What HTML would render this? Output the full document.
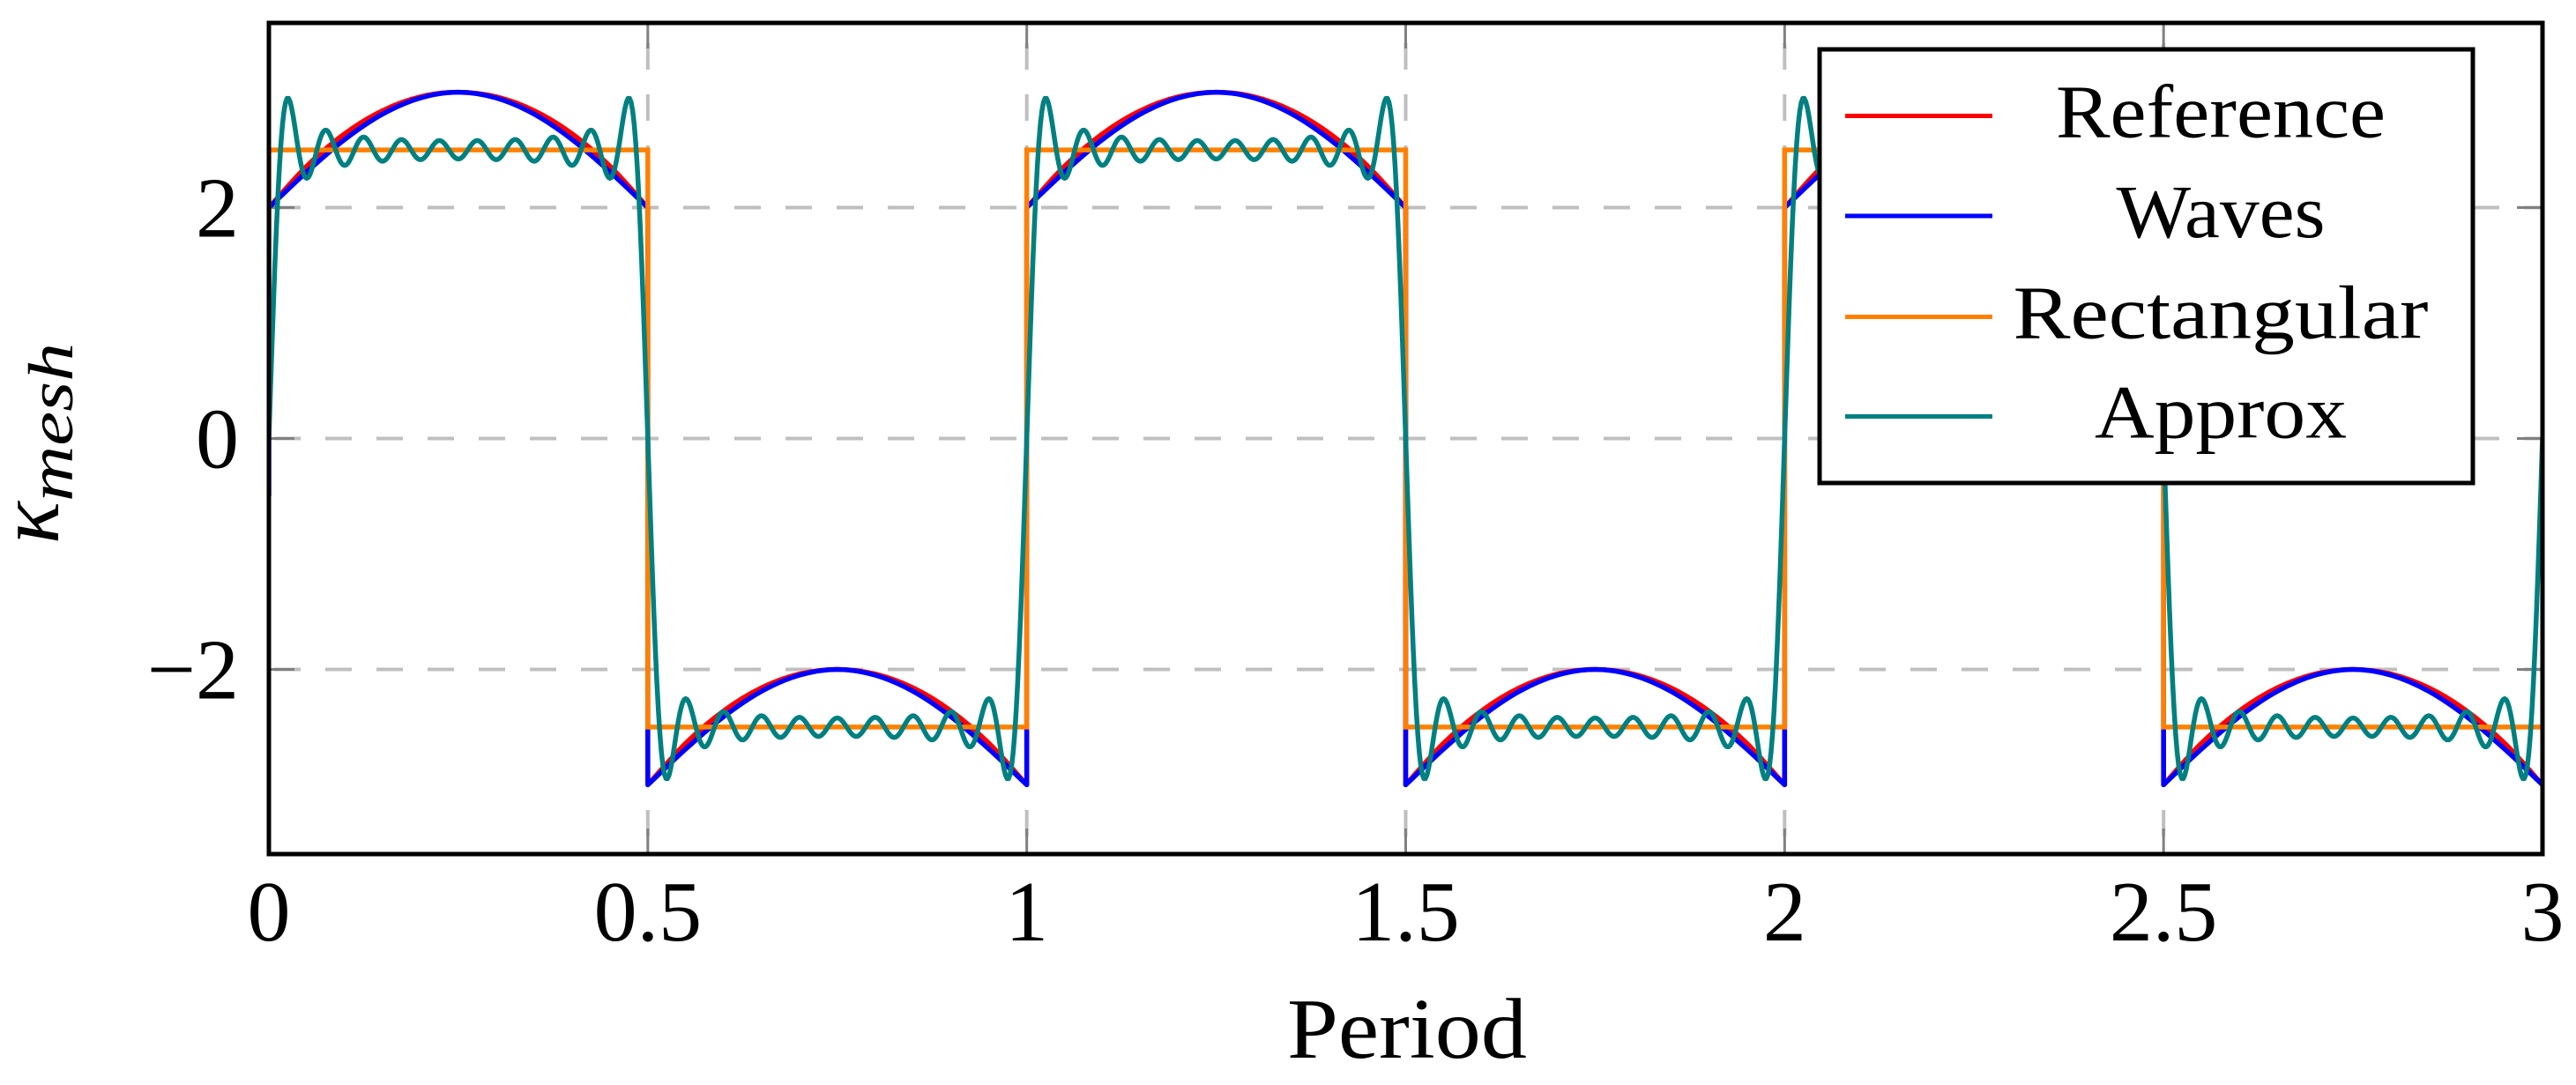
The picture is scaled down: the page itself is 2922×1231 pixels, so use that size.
<!DOCTYPE html>
<html><head><meta charset="utf-8"><style>
html,body{margin:0;padding:0;background:#fff;}
svg{display:block;}
text{font-family:"Liberation Serif",serif;fill:#000;}
</style></head><body>
<svg id="chart" width="2922" height="1231" viewBox="0 0 2922 1231" xmlns="http://www.w3.org/2000/svg">
<defs><clipPath id="plotclip"><rect x="305" y="26" width="2579" height="943"/></clipPath></defs>
<rect x="0" y="0" width="2922" height="1231" fill="#fff"/>
<g id="grid"></g>
<g id="ticks"></g>
<g id="series" clip-path="url(#plotclip)"></g>
<rect x="305" y="26" width="2579" height="943" fill="none" stroke="#000" stroke-width="5"/>
<g id="xlabels"></g>
<g id="ylabels"></g>
<text x="1596" y="1200" font-size="97" text-anchor="middle" textLength="272" lengthAdjust="spacingAndGlyphs">Period</text>
<text transform="translate(66,617) rotate(-90)"><tspan font-size="100" font-style="italic" textLength="57">κ</tspan><tspan font-size="72" font-style="italic" dy="16" textLength="180" lengthAdjust="spacingAndGlyphs">mesh</tspan></text>
<g id="legend"></g>
</svg>
<script>
// ---- data ----
const xTicks = [0, 0.5, 1, 1.5, 2, 2.5, 3];
const xTickLabels = ["0", "0.5", "1", "1.5", "2", "2.5", "3"];
const yTicks = [-2, 0, 2];
const yTickLabels = ["\u22122", "0", "2"];
const halfStep = 0.05;
const refUpper = [2.00, 2.36, 2.64, 2.84, 2.96, 3.00, 2.96, 2.84, 2.64, 2.36, 2.00];
const refLower = [-3.00, -2.64, -2.36, -2.16, -2.04, -2.00, -2.04, -2.16, -2.36, -2.64, -3.00];
const wavesUpper = [2.00, 2.31, 2.59, 2.81, 2.95, 3.00, 2.95, 2.81, 2.59, 2.31, 2.00];
const wavesLower = [-3.00, -2.69, -2.41, -2.19, -2.05, -2.00, -2.05, -2.19, -2.41, -2.69, -3.00];
const wavesStart = -0.5;
const rectLevels = [2.5, -2.5];
const approxHarmonics = [1, 3, 5, 7, 9, 11, 13, 15, 17, 19];
const approxAmplitudes = [3.183, 1.061, 0.637, 0.455, 0.354, 0.289, 0.245, 0.212, 0.187, 0.168];
const numHalves = 6;
const legendLabels = ["Reference", "Waves", "Rectangular", "Approx"];

// ---- axes ----
const X0 = 305, X1 = 2884, Y0 = 969, Y1 = 26;
const xMin = 0, xMax = 3, yMin = -3.6, yMax = 3.6;
function sx(v){ return X0 + (v - xMin) / (xMax - xMin) * (X1 - X0); }
function sy(v){ return Y0 - (v - yMin) / (yMax - yMin) * (Y0 - Y1); }
const NS = "http://www.w3.org/2000/svg";
function mk(tag, attrs, parent){
  const e = document.createElementNS(NS, tag);
  for (const k in attrs) e.setAttribute(k, attrs[k]);
  parent.appendChild(e); return e;
}
const grid = document.getElementById('grid');
const ticks = document.getElementById('ticks');
const series = document.getElementById('series');
const xl = document.getElementById('xlabels');
const yl = document.getElementById('ylabels');
const legend = document.getElementById('legend');

xTicks.forEach((v, i) => {
  const x = sx(v);
  if (v > xMin && v < xMax) {
    const g = mk('line', {x1:x, y1:Y0, x2:x, y2:Y1, stroke:'#bfbfbf', 'stroke-width':4, 'stroke-dasharray':'30 28', 'stroke-dashoffset':-20}, grid);
    
    
  }
  const t1 = mk('line', {x1:x, y1:Y0, x2:x, y2:Y0-29, stroke:'#808080', 'stroke-width':3}, ticks);
  
  
  const t2 = mk('line', {x1:x, y1:Y1, x2:x, y2:Y1+29, stroke:'#808080', 'stroke-width':3}, ticks);
  
  
  const tx = mk('text', {x:x, y:1067, 'font-size':98, 'text-anchor':'middle'}, xl);
  tx.textContent = xTickLabels[i];
  
  
});
yTicks.forEach((v, i) => {
  const y = sy(v);
  const g = mk('line', {x1:X0, y1:y, x2:X1, y2:y, stroke:'#bfbfbf', 'stroke-width':4, 'stroke-dasharray':'30 28', 'stroke-dashoffset':-6}, grid);
  
  
  const t1 = mk('line', {x1:X0, y1:y, x2:X0+29, y2:y, stroke:'#808080', 'stroke-width':3}, ticks);
  
  
  const t2 = mk('line', {x1:X1, y1:y, x2:X1-29, y2:y, stroke:'#808080', 'stroke-width':3}, ticks);
  
  
  const tx = mk('text', {x:271, y:y+33, 'font-size':98, 'text-anchor':'end'}, yl);
  tx.textContent = yTickLabels[i];
  
  
});

function smoothPath(pts){
  let d = 'M' + pts[0][0].toFixed(2) + ' ' + pts[0][1].toFixed(2);
  for (let i = 0; i < pts.length - 1; i++) {
    const p0 = pts[Math.max(0, i-1)], p1 = pts[i], p2 = pts[i+1], p3 = pts[Math.min(pts.length-1, i+2)];
    const c1 = [p1[0] + (p2[0]-p0[0])/6, p1[1] + (p2[1]-p0[1])/6];
    const c2 = [p2[0] - (p3[0]-p1[0])/6, p2[1] - (p3[1]-p1[1])/6];
    d += ' C' + c1[0].toFixed(2) + ' ' + c1[1].toFixed(2) + ' ' + c2[0].toFixed(2) + ' ' + c2[1].toFixed(2) + ' ' + p2[0].toFixed(2) + ' ' + p2[1].toFixed(2);
  }
  return d;
}
function halfSeriesPath(upper, lower, start){
  let d = '';
  if (start !== null) d = 'M' + sx(0) + ' ' + sy(start) + ' ';
  for (let h = 0; h < numHalves; h++) {
    const arr = h % 2 === 0 ? upper : lower;
    const pts = arr.map((v, i) => [sx(h*0.5 + i*halfStep), sy(v)]);
    let seg = smoothPath(pts);
    if (d === '') d = seg; else d += ' L' + seg.slice(1);
  }
  return d;
}
const pRect = (() => {
  let d = 'M' + sx(0) + ' ' + sy(0);
  for (let h = 0; h < numHalves; h++) {
    const lv = rectLevels[h % 2];
    d += ' L' + sx(h*0.5) + ' ' + sy(lv) + ' L' + sx((h+1)*0.5) + ' ' + sy(lv);
  }
  return d;
})();
const pRef = halfSeriesPath(refUpper, refLower, null);
const pWaves = halfSeriesPath(wavesUpper, wavesLower, wavesStart);
const pApprox = (() => {
  let d = '';
  for (let i = 0; i <= 1500; i++) {
    const x = xMin + (xMax - xMin) * i / 1500;
    let y = 0;
    approxHarmonics.forEach((k, j) => { y += approxAmplitudes[j] * Math.sin(2*Math.PI*k*x); });
    d += (i ? ' L' : 'M') + sx(x).toFixed(2) + ' ' + sy(y).toFixed(2);
  }
  return d;
})();

const rl = mk('path', {d:pRef, fill:'none', stroke:'#ff0000', 'stroke-width':5.5, 'stroke-linejoin':'round'}, series);


const wl = mk('path', {d:pWaves, fill:'none', stroke:'#0000ff', 'stroke-width':5.5, 'stroke-linejoin':'round'}, series);


const ol = mk('path', {d:pRect, fill:'none', stroke:'#ff8000', 'stroke-width':5.5}, series);


const al = mk('path', {d:pApprox, fill:'none', stroke:'#008080', 'stroke-width':5.5, 'stroke-linejoin':'round'}, series);



// ---- legend ----
const lb = mk('rect', {x:2064, y:56, width:741, height:492, fill:'#fff', stroke:'#000', 'stroke-width':5}, legend);


const legColors = ['#ff0000', '#0000ff', '#ff8000', '#008080'];
const legRowY = [131.5, 245, 359.5, 472.5];
const legWidths = [374, 237, 471, 286];
legendLabels.forEach((lab, i) => {
  const ln = mk('line', {x1:2093, y1:legRowY[i], x2:2260, y2:legRowY[i], stroke:legColors[i], 'stroke-width':5}, legend);
  
  
  const t = mk('text', {x:2519, y:legRowY[i]+24, 'font-size':86, 'text-anchor':'middle', textLength:legWidths[i], lengthAdjust:'spacingAndGlyphs'}, legend);
  t.textContent = lab;
  
  
});
</script>
</body></html>
